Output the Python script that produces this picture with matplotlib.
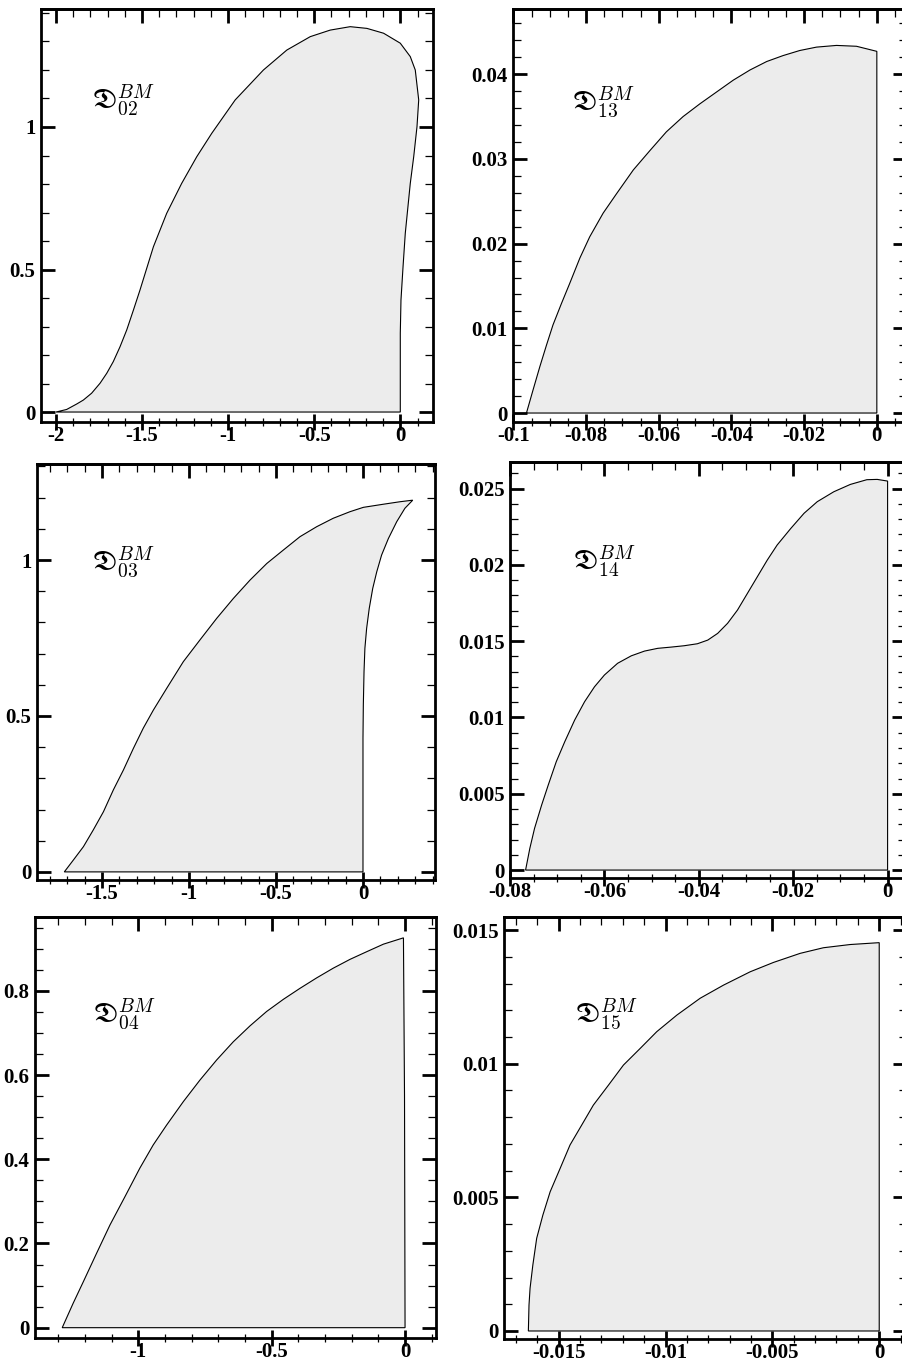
import matplotlib
matplotlib.use('Agg')
import matplotlib.pyplot as plt
from matplotlib.ticker import MultipleLocator, FuncFormatter

# configure matplotlib
matplotlib.rcParams['axes.linewidth'] = 2.0
matplotlib.rcParams['axes.unicode_minus'] = False
matplotlib.rcParams['mathtext.fontset'] = 'cm'

# ---- data ----
# D_02: outer curve from (-2, 0) round the top and back down to (0, 0)
d02_x = [-2.0, -1.938, -1.880, -1.841, -1.793, -1.744, -1.705, -1.667, -1.628, -1.589,
         -1.550, -1.512, -1.473, -1.434, -1.357, -1.270, -1.182, -1.095, -0.959, -0.795,
         -0.659, -0.523, -0.407, -0.291, -0.194, -0.097, 0.0, 0.058, 0.087, 0.107,
         0.097, 0.078, 0.058, 0.029, 0.016, 0.004, 0.0, 0.0]
d02_y = [0.0, 0.009, 0.028, 0.042, 0.066, 0.101, 0.136, 0.177, 0.229, 0.288,
         0.358, 0.428, 0.504, 0.580, 0.697, 0.802, 0.896, 0.978, 1.095, 1.200,
         1.270, 1.317, 1.340, 1.352, 1.346, 1.329, 1.294, 1.247, 1.200, 1.095,
         1.001, 0.896, 0.802, 0.627, 0.510, 0.393, 0.276, 0.0]

# D_13
d13_x = [-0.0964, -0.0946, -0.0927, -0.0909, -0.0891, -0.0868, -0.0845, -0.0817,
         -0.0790, -0.0753, -0.0716, -0.0670, -0.0624, -0.0579, -0.0533, -0.0487,
         -0.0441, -0.0395, -0.0349, -0.0303, -0.0258, -0.0212, -0.0166, -0.0111,
         -0.0056, 0.0, 0.0]
d13_y = [0.0, 0.0027, 0.0055, 0.0080, 0.0104, 0.0129, 0.0153, 0.0183,
         0.0208, 0.0236, 0.0259, 0.0287, 0.0310, 0.0332, 0.0350, 0.0365,
         0.0379, 0.0393, 0.0405, 0.0415, 0.0422, 0.0428, 0.0432, 0.0434,
         0.0433, 0.0427, 0.0]

# D_03: upper curve, then the inner curve back down to (0, 0)
d03_x = [-1.717, -1.665, -1.607, -1.550, -1.492, -1.435, -1.377, -1.320, -1.263, -1.205,
         -1.128, -1.033, -0.937, -0.841, -0.745, -0.649, -0.553, -0.458, -0.362, -0.266,
         -0.171, -0.075, 0.002, 0.117, 0.213, 0.286,
         0.241, 0.194, 0.146, 0.107, 0.079, 0.056, 0.036, 0.021, 0.011, 0.006, 0.002,
         0.0, 0.0]
d03_y = [0.0, 0.038, 0.081, 0.135, 0.193, 0.263, 0.327, 0.396, 0.461, 0.519,
         0.589, 0.674, 0.744, 0.813, 0.877, 0.936, 0.989, 1.032, 1.075, 1.107,
         1.134, 1.155, 1.169, 1.179, 1.187, 1.192,
         1.166, 1.123, 1.069, 1.016, 0.962, 0.909, 0.845, 0.781, 0.717, 0.642, 0.535,
         0.429, 0.0]

# D_14
d14_x = [-0.0767, -0.0758, -0.0748, -0.0733, -0.0719, -0.0702, -0.0684, -0.0663,
         -0.0642, -0.0621, -0.0600, -0.0572, -0.0543, -0.0515, -0.0487, -0.0459,
         -0.0431, -0.0403, -0.0381, -0.0360, -0.0339, -0.0318, -0.0297, -0.0276,
         -0.0255, -0.0234, -0.0205, -0.0177, -0.0149, -0.0114, -0.0079, -0.0044,
         -0.0022, 0.0, 0.0]
d14_y = [0.0, 0.00142, 0.00273, 0.00426, 0.00557, 0.00710, 0.00841, 0.00983,
         0.01103, 0.01201, 0.01278, 0.01355, 0.01404, 0.01435, 0.01453, 0.01461,
         0.01470, 0.01483, 0.01507, 0.01551, 0.01617, 0.01704, 0.01813, 0.01922,
         0.02031, 0.02130, 0.02239, 0.02338, 0.02414, 0.02479, 0.02527, 0.02558,
         0.02560, 0.02549, 0.0]

# D_04
d04_x = [-1.285, -1.244, -1.206, -1.156, -1.106, -1.050, -0.994, -0.944, -0.894, -0.831,
         -0.769, -0.706, -0.644, -0.581, -0.519, -0.456, -0.394, -0.331, -0.269, -0.206,
         -0.144, -0.081, -0.006, -0.002, 0.0]
d04_y = [0.0, 0.058, 0.109, 0.177, 0.244, 0.311, 0.379, 0.434, 0.481, 0.537,
         0.588, 0.636, 0.679, 0.717, 0.751, 0.780, 0.806, 0.831, 0.854, 0.875,
         0.893, 0.911, 0.926, 0.550, 0.0]

# D_15
d15_x = [-0.01642, -0.01639, -0.01634, -0.01621, -0.01603, -0.01574, -0.01540, -0.01493,
         -0.01447, -0.01392, -0.01338, -0.01267, -0.01197, -0.01119, -0.01041, -0.00947,
         -0.00838, -0.00729, -0.00604, -0.00495, -0.00370, -0.00261, -0.00136, 0.0, 0.0]
d15_y = [0.0, 0.00097, 0.00160, 0.00247, 0.00347, 0.00434, 0.00521, 0.00609,
         0.00696, 0.00771, 0.00845, 0.00920, 0.00995, 0.01057, 0.01120, 0.01182,
         0.01245, 0.01294, 0.01344, 0.01379, 0.01413, 0.01434, 0.01446, 0.01453, 0.0]

labels = [r'$\mathfrak{D}_{02}^{BM}$', r'$\mathfrak{D}_{13}^{BM}$',
          r'$\mathfrak{D}_{03}^{BM}$', r'$\mathfrak{D}_{14}^{BM}$',
          r'$\mathfrak{D}_{04}^{BM}$', r'$\mathfrak{D}_{15}^{BM}$']
series = [(d02_x, d02_y), (d13_x, d13_y), (d03_x, d03_y),
          (d14_x, d14_y), (d04_x, d04_y), (d15_x, d15_y)]

xlims = [(-2.087, 0.19), (-0.1001, 0.0083), (-1.874, 0.414),
         (-0.08, 0.0039), (-1.387, 0.116), (-0.01756, 0.0013)]
ylims = [(-0.035, 1.414), (-0.00106, 0.0477), (-0.026, 1.308),
         (-0.00052, 0.02674), (-0.0245, 0.9755), (-0.0003, 0.01549)]
xmajor = [0.5, 0.02, 0.5, 0.02, 0.5, 0.005]
xminor = [0.1, 0.005, 0.1, 0.005, 0.1, 0.001]
ymajor = [0.5, 0.01, 0.5, 0.005, 0.2, 0.005]
yminor = [0.1, 0.002, 0.1, 0.001, 0.05, 0.001]

# axes boxes in pixels: left, right, top, bottom
boxes = [(41, 433, 9, 422), (513, 907, 9, 422),
         (37, 435, 464, 880), (510, 906, 462, 878),
         (35, 436, 917, 1338), (504, 907, 917, 1339)]
label_pos = [(0.130, 0.760), (0.150, 0.755), (0.138, 0.745),
             (0.159, 0.740), (0.145, 0.750), (0.176, 0.751)]

W, H = 902, 1363
fig = plt.figure(figsize=(W / 100, H / 100), dpi=100)


def tick_fmt(v, pos):
    if abs(v) < 1e-9:
        return '0'
    return '%g' % round(v, 6)


fmt = FuncFormatter(tick_fmt)
tick_font = {'family': 'Liberation Serif', 'weight': 'bold', 'size': 15}

for i in range(6):
    l, r, t, b = boxes[i]
    ax = fig.add_axes([l / W, 1 - b / H, (r - l) / W, (b - t) / H])
    x, y = series[i]
    ax.fill(x, y, facecolor='#ececec', edgecolor='black', linewidth=0.8)
    ax.set_xlim(*xlims[i])
    ax.set_ylim(*ylims[i])

    ax.xaxis.set_major_locator(MultipleLocator(xmajor[i]))
    ax.xaxis.set_minor_locator(MultipleLocator(xminor[i]))
    ax.yaxis.set_major_locator(MultipleLocator(ymajor[i]))
    ax.yaxis.set_minor_locator(MultipleLocator(yminor[i]))
    ax.xaxis.set_major_formatter(fmt)
    ax.yaxis.set_major_formatter(fmt)

    ax.tick_params(axis='y', which='both', direction='in', left=True, right=True, pad=4)
    ax.tick_params(axis='x', which='both', direction='inout', top=False, pad=-3)
    ax.tick_params(which='major', width=2)
    ax.tick_params(axis='y', which='major', length=10)
    ax.tick_params(axis='x', which='major', length=12)
    ax.tick_params(which='minor', length=6, width=0.9)
    for lab in ax.get_xticklabels() + ax.get_yticklabels():
        lab.set_fontproperties(tick_font)

    # top ticks point inwards only
    top = ax.secondary_xaxis('top')
    top.xaxis.set_major_locator(MultipleLocator(xmajor[i]))
    top.xaxis.set_minor_locator(MultipleLocator(xminor[i]))
    top.tick_params(which='both', direction='in', labeltop=False)
    top.tick_params(which='major', length=10, width=2)
    top.tick_params(which='minor', length=6, width=0.9)

    ax.text(label_pos[i][0], label_pos[i][1], labels[i], transform=ax.transAxes,
            fontsize=20, ha='left', va='baseline')

fig.savefig('out.png', dpi=100)
